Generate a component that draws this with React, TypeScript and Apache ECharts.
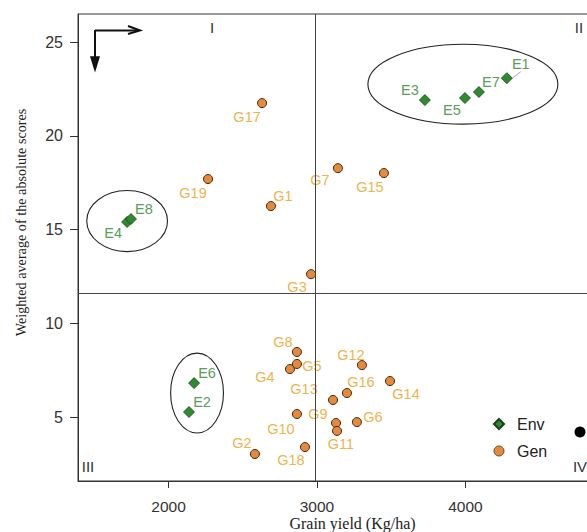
import React, { useEffect, useRef } from "react";
import * as echarts from "echarts";

// ---- data ----
const envNames = ["E1", "E2", "E3", "E4", "E5", "E6", "E7", "E8"];
const envYield = [4279, 2138, 3727, 1721, 3997, 2172, 4091, 1747];
const envScore = [23.08, 5.28, 21.91, 15.41, 22.02, 6.82, 22.34, 15.57];

const genNames = [
  "G1", "G2", "G3", "G4", "G5", "G6", "G7", "G8", "G9", "G10",
  "G11", "G12", "G13", "G14", "G15", "G16", "G17", "G18", "G19",
];
const genYield = [
  2690, 2582, 2960, 2818, 2865, 3269, 3141, 2865, 3128, 2865,
  3135, 3303, 3108, 3492, 3451, 3202, 2630, 2919, 2266,
];
const genScore = [
  16.26, 3.04, 12.63, 7.57, 7.84, 4.74, 18.28, 8.48, 4.69, 5.17,
  4.27, 7.78, 5.92, 6.93, 18.02, 6.29, 21.75, 3.41, 17.7,
];

const xTicks = [2000, 3000, 4000];
const yTicks = [5, 10, 15, 20, 25];
const quadrantYield = 2985;
const quadrantScore = 11.62;

// ellipses: [centre yield, centre score, radius yield, radius score]
const ellipseCx = [3983, 1721, 2192];
const ellipseCy = [22.76, 15.46, 6.29];
const ellipseRx = [640, 272, 178];
const ellipseRy = [2.13, 1.63, 2.13];

// ---- label layout (pixel offsets) ----
const envLabelOffset: Record<string, number[]> = {
  E1: [14, -14], E2: [13, -10], E3: [-15, -10], E4: [-14, 11],
  E5: [-13, 12], E6: [13, -10], E7: [12, -10], E8: [13, -10],
};
const genLabelOffset: Record<string, number[]> = {
  G1: [12, -10], G2: [-13, -11], G3: [-14, 13], G4: [-25, 8], G5: [15, 2],
  G6: [16, -5], G7: [-18, 12], G8: [-14, -10], G9: [-18, -9], G10: [-16, 15],
  G11: [4, 13], G12: [-11, -10], G13: [-29, -11], G14: [16, 13], G15: [-14, 14],
  G16: [14, -11], G17: [-15, 14], G18: [-14, 13], G19: [-15, 14],
};
const withLeader = ["E1", "G13"];

const SANS = "'Liberation Sans', Arial, sans-serif";
const SERIF = "'Liberation Serif', 'Times New Roman', serif";

export default function App() {
  const ref = useRef<HTMLDivElement>(null);

  useEffect(() => {
    if (!ref.current) return;
    const chart = echarts.init(ref.current, null, { renderer: "svg", width: 587, height: 532 });

    const envData = envNames.map((n, i) => ({
      name: n,
      value: [envYield[i], envScore[i]],
      label: { offset: envLabelOffset[n] },
      labelLine: { show: withLeader.includes(n) },
    }));
    const genData = genNames.map((n, i) => ({
      name: n,
      value: [genYield[i], genScore[i]],
      label: { offset: genLabelOffset[n] },
      labelLine: { show: withLeader.includes(n) },
    }));
    const ellipseData = ellipseCx.map((c, i) => [c, ellipseCy[i], ellipseRx[i], ellipseRy[i]]);

    chart.setOption({
      animation: false,
      backgroundColor: "#ffffff",
      grid: {
        left: 78,
        top: 14,
        width: 521,
        height: 467,
        show: true,
        borderColor: "#333",
        borderWidth: 1,
        containLabel: false,
        outerBoundsMode: "none",
      },
      xAxis: {
        type: "value",
        min: 1390,
        max: 4900,
        name: "Grain yield (Kg/ha)",
        nameLocation: "middle",
        nameGap: 34,
        nameMoveOverlap: false,
        nameTextStyle: { fontFamily: SERIF, fontSize: 16, color: "#222", padding: [0, 0, 0, 28] },
        splitLine: { show: false },
        axisLine: { show: true, lineStyle: { color: "#333" } },
        axisTick: { show: true, length: 7, customValues: xTicks, lineStyle: { color: "#333" } },
        axisLabel: {
          customValues: xTicks,
          formatter: (v: number) => String(v),
          margin: 17,
          fontFamily: SANS,
          fontSize: 15.5,
          color: "#333",
        },
      },
      yAxis: {
        type: "value",
        min: 1.6,
        max: 26.5,
        name: "Weighted average of the absolute scores",
        nameLocation: "middle",
        nameGap: 50,
        nameMoveOverlap: false,
        nameTextStyle: {
          fontFamily: SERIF,
          fontSize: 14.2,
          color: "#222",
          padding: [0, 0, 0, 50],
        },
        splitLine: { show: false },
        axisLine: { show: true, lineStyle: { color: "#333" } },
        axisTick: { show: true, length: 8, customValues: yTicks, lineStyle: { color: "#333" } },
        axisLabel: {
          customValues: yTicks,
          margin: 15,
          fontFamily: SANS,
          fontSize: 16,
          color: "#333",
        },
      },
      legend: {
        orient: "vertical",
        left: 488,
        top: 411,
        itemWidth: 10,
        itemHeight: 10,
        itemGap: 11,
        textStyle: { fontFamily: SANS, fontSize: 16, color: "#222", padding: [0, 0, 0, 8] },
        data: [
          { name: "Env", icon: "diamond" },
          { name: "Gen", icon: "circle", itemStyle: { borderWidth: 0.8 } },
        ],
      },
      series: [
        {
          type: "custom",
          name: "ellipses",
          silent: true,
          z: 1,
          renderItem: (params: any, api: any) => {
            const c = api.coord([api.value(0), api.value(1)]);
            const s = api.size([api.value(2), api.value(3)]);
            return {
              type: "ellipse",
              shape: { cx: c[0], cy: c[1], rx: s[0], ry: s[1] },
              style: { fill: "none", stroke: "#222", lineWidth: 1.1 },
            };
          },
          data: ellipseData,
          markLine: {
            silent: true,
            symbol: ["none", "none"],
            label: { show: false },
            lineStyle: { color: "#444", type: "solid", width: 1 },
            data: [{ xAxis: quadrantYield }, { yAxis: quadrantScore }],
          },
        },
        {
          type: "scatter",
          name: "Gen",
          symbol: "circle",
          symbolSize: 9,
          z: 3,
          itemStyle: { color: "#e8893a", borderColor: "#3a2a1a", borderWidth: 1, opacity: 1 },
          label: {
            show: true,
            position: "inside",
            formatter: "{b}",
            fontFamily: SANS,
            fontSize: 14.5,
            color: "#efb24c",
          },
          labelLine: { lineStyle: { color: "#aaa", width: 1 } },
          data: genData,
        },
        {
          type: "scatter",
          name: "Env",
          symbol: "diamond",
          symbolSize: 11,
          z: 4,
          itemStyle: { color: "#2e8b2e", borderColor: "#1d3d1d", borderWidth: 0.8, opacity: 1 },
          label: {
            show: true,
            position: "inside",
            formatter: "{b}",
            fontFamily: SANS,
            fontSize: 14.5,
            color: "#5a9e5a",
          },
          labelLine: { lineStyle: { color: "#aaa", width: 1 } },
          data: envData,
        },
      ],
      graphic: [
        // orientation arrows
        { type: "line", shape: { x1: 95, y1: 30.5, x2: 139, y2: 30.5 }, style: { stroke: "#111", lineWidth: 2 } },
        { type: "polyline", shape: { points: [[128, 26], [140, 30.5], [128, 34]] }, style: { stroke: "#111", lineWidth: 2, fill: "none" } },
        { type: "line", shape: { x1: 95, y1: 30, x2: 95, y2: 62 }, style: { stroke: "#111", lineWidth: 2 } },
        { type: "polygon", shape: { points: [[91, 57], [95, 70], [99, 57]] }, style: { fill: "#111", stroke: "#111", lineWidth: 1.5 } },
        // quadrant labels
        { type: "text", x: 212, y: 27, style: { text: "I", font: `15px ${SANS}`, fill: "#333", align: "center", verticalAlign: "middle" } },
        { type: "text", x: 579, y: 27, style: { text: "II", font: `15px ${SANS}`, fill: "#333", align: "center", verticalAlign: "middle" } },
        { type: "text", x: 88, y: 466, style: { text: "III", font: `15px ${SANS}`, fill: "#333", align: "center", verticalAlign: "middle" } },
        { type: "text", x: 580, y: 466, style: { text: "IV", font: `15px ${SANS}`, fill: "#333", align: "center", verticalAlign: "middle" } },
        // black dot at right edge
        { type: "circle", shape: { cx: 580, cy: 432, r: 5.5 }, style: { fill: "#000" } },
      ],
    });

    return () => chart.dispose();
  }, []);

  return (
    <div
      ref={ref}
      style={{ position: "fixed", left: 0, top: 0, width: 587, height: 532, background: "#fff" }}
    />
  );
}
